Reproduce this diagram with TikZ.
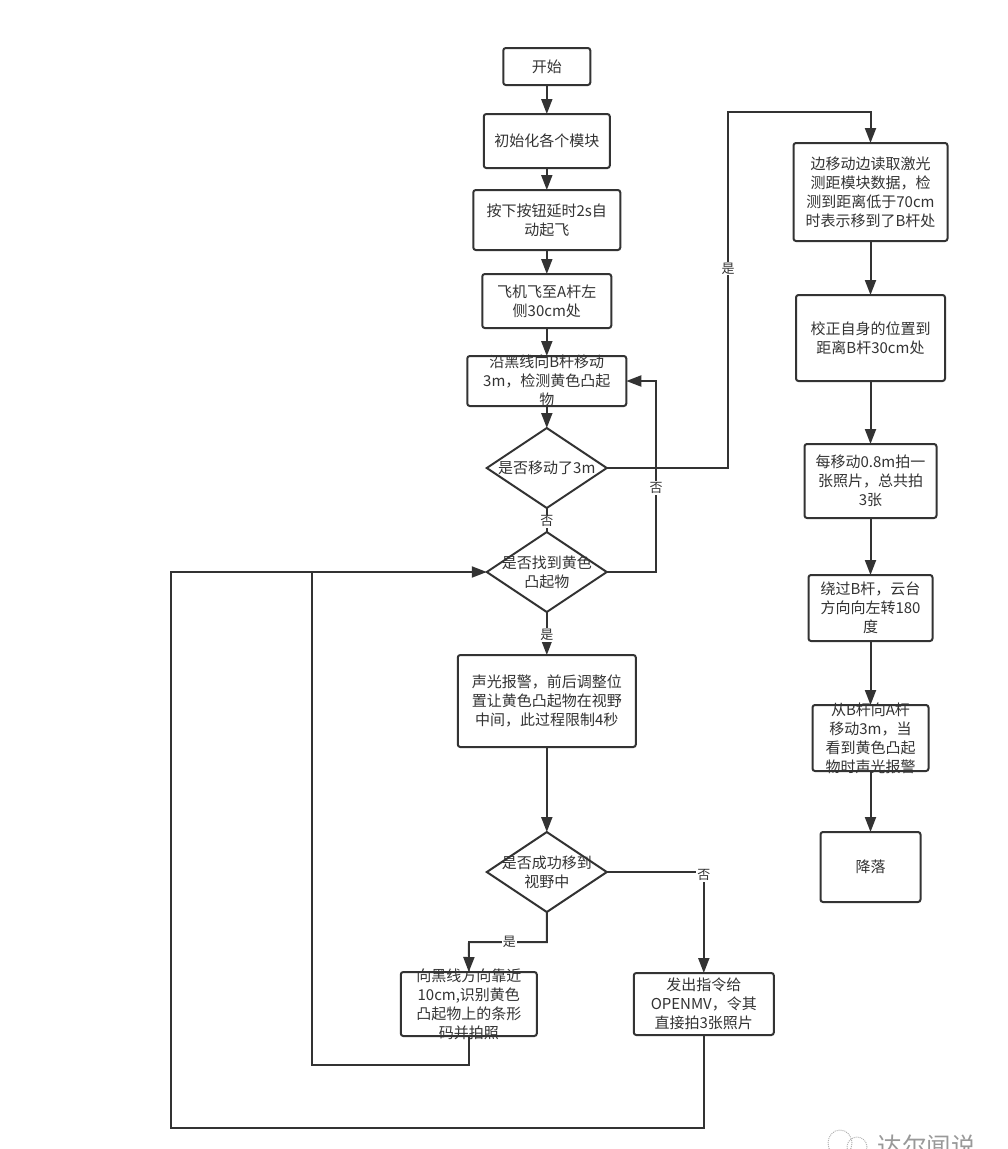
\documentclass[tikz,border=0pt]{standalone}
\usepackage{fontspec}
\setmainfont{Noto Sans CJK SC}
\usetikzlibrary{arrows.meta, positioning, shapes.geometric}

\begin{document}
\begin{tikzpicture}[x=1pt, y=-1pt]
		\tikzstyle{StepName} = [rectangle, rounded corners=2.5pt, inner sep=-10pt, outer sep=0pt, align=center, draw=black!80, line width=2pt, fill=white, text=black!80, font=\fontsize{15}{19}\selectfont]
		\tikzstyle{CheckName} = [diamond, aspect=1.5, minimum width=120pt, minimum height=80pt, inner sep=-20pt, outer sep=0pt, align=center, draw=black!80, line width=2pt, fill=white, text=black!80, font=\fontsize{15}{19}\selectfont]
		\tikzstyle{EdgeLabel} = [fill=white, inner sep=1pt, text=black!80, font=\fontsize{13}{15}\selectfont]
		\tikzstyle{arrow} = [line width=2pt, draw=black!80, ->, >={Stealth[length=15pt, width=11pt, inset=0pt]}]
		\tikzstyle{line} = [line width=2pt, draw=black!80]
		
		\useasboundingbox (0,0) rectangle (1008,1149);
		
		% middle column
		\node (start) [StepName, minimum width=87pt, minimum height=37pt] at (546.8,66.5) {开始};
		\node (init) [StepName, minimum width=126pt, minimum height=54pt, below = 29pt of start] {初始化各个模块};
		\node (button) [StepName, minimum width=147pt, minimum height=60pt, below = 22pt of init] {按下按钮延时2s自\\动起飞};
		\node (fly) [StepName, minimum width=129pt, minimum height=54pt, below = 24pt of button] {飞机飞至A杆左\\侧30cm处};
		\node (move) [StepName, minimum width=159pt, minimum height=50pt, below = 28pt of fly] {沿黑线向B杆移动\\3m，检测黄色凸起\\物};
		\node (checkMove) [CheckName, below = 22pt of move] {是否移动了3m};
		\node (checkFind) [CheckName, below = 24pt of checkMove] {是否找到黄色\\凸起物};
		\node (alarm) [StepName, minimum width=178pt, minimum height=92pt, below = 43pt of checkFind] {声光报警，前后调整位\\置让黄色凸起物在视野\\中间，此过程限制4秒};
		\node (checkOk) [CheckName, below = 85pt of alarm] {是否成功移到\\视野中};
		\node (near) [StepName, minimum width=136pt, minimum height=64pt, below = 60pt of checkOk, xshift=-78pt] {向黑线方向靠近\\10cm,识别黄色\\凸起物上的条形\\码并拍照};
		\node (order) [StepName, minimum width=140pt, minimum height=62pt, below = 61pt of checkOk, xshift=157pt] {发出指令给\\OPENMV，令其\\直接拍3张照片};
		
		% right column
		\node (read) [StepName, minimum width=154pt, minimum height=98pt] at (870.5,192) {边移动边读取激光\\测距模块数据，检\\测到距离低于70cm\\时表示移到了B杆处};
		\node (correct) [StepName, minimum width=149pt, minimum height=86pt, below = 54pt of read] {校正自身的位置到\\距离B杆30cm处};
		\node (photo) [StepName, minimum width=132pt, minimum height=74pt, below = 63pt of correct] {每移动0.8m拍一\\张照片，总共拍\\3张};
		\node (around) [StepName, minimum width=124pt, minimum height=66pt, below = 57pt of photo] {绕过B杆，云台\\方向向左转180\\度};
		\node (back) [StepName, minimum width=116pt, minimum height=66pt, below = 64pt of around] {从B杆向A杆\\移动3m，当\\看到黄色凸起\\物时声光报警};
		\node (land) [StepName, minimum width=100pt, minimum height=70pt, below = 61pt of back] {降落};
		
		% bends
		\coordinate (turnRead) at (728,112);
		\coordinate (turnMove) at (656,381);
		\coordinate (turnNear) at (469,942);
		\coordinate (turnInner) at (312,1065);
		\coordinate (joinInner) at (312,572);
		\coordinate (turnOuter) at (171,1128);
		\coordinate (joinOuter) at (171,572);
		
		\draw[arrow] (start) -- (init);
		\draw[arrow] (init) -- (button);
		\draw[arrow] (button) -- (fly);
		\draw[arrow] (fly) -- (move);
		\draw[arrow] (move) -- (checkMove);
		\draw[line] (checkMove) -- node[EdgeLabel, pos=0.55] {否} (checkFind);
		\draw[arrow] (checkFind) -- node[EdgeLabel, pos=0.53] {是} (alarm);
		\draw[arrow] (alarm) -- (checkOk);
		\draw[arrow] (checkMove.east) -| node[EdgeLabel, pos=0.78] {是} (turnRead) -| (read.north);
		\draw[arrow] (checkFind.east) -| node[EdgeLabel, pos=0.72] {否} (turnMove) -- (move.east);
		\draw[arrow] (checkOk.south) |- node[EdgeLabel, pos=0.74] {是} (turnNear) -- (near.north);
		\draw[arrow] (checkOk.east) -| node[EdgeLabel, pos=0.515] {否} (order.north);
		\draw[line] (near.south) |- (turnInner) -- (joinInner);
		\draw[arrow] (order.south) |- (turnOuter) -- (joinOuter) -- (checkFind.west);
		
		\draw[arrow] (read) -- (correct);
		\draw[arrow] (correct) -- (photo);
		\draw[arrow] (photo) -- (around);
		\draw[arrow] (around) -- (back);
		\draw[arrow] (back) -- (land);
		
		% watermark
		\draw[black!30, line width=1pt, densely dotted] (840,1143) ellipse (12pt and 13pt);
		\draw[black!30, line width=1pt, densely dotted] (857,1147) ellipse (10pt and 10pt);
		\node (mark) [text=black!40, font=\fontsize{24.5}{26}\selectfont, inner sep=0pt] at (926.5,1146) {达尔闻说};
\end{tikzpicture}
\end{document}
